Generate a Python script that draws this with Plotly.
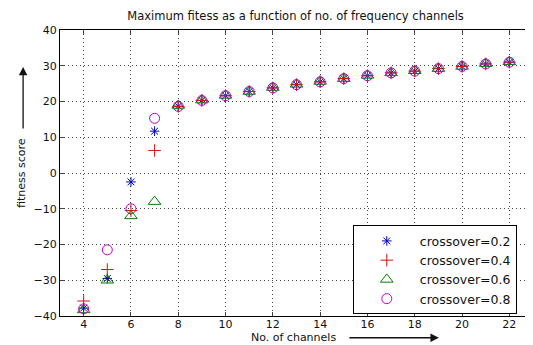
import plotly.graph_objects as go

channels = list(range(4, 23))
cross_02 = [-37.8, -29.5, -2.5, 11.7, 18.7, 20.3, 21.6, 22.8, 23.8, 24.7, 25.5, 26.4, 27.2, 28.0, 28.5, 29.2, 29.8, 30.5, 31.0]
cross_04 = [-35.8, -27.0, -10.5, 6.3, 18.6, 20.3, 21.6, 22.8, 23.8, 24.7, 25.5, 26.4, 27.2, 28.0, 28.5, 29.2, 29.8, 30.5, 31.0]
cross_06 = [-38.3, -30.0, -12.0, -8.0, 18.9, 20.4, 21.7, 22.8, 23.9, 24.8, 25.6, 26.4, 27.3, 28.0, 28.6, 29.2, 29.8, 30.6, 31.1]
cross_08 = [-38.0, -21.5, -10.0, 15.3, 18.6, 20.3, 21.6, 22.8, 23.8, 24.7, 25.5, 26.4, 27.2, 28.0, 28.5, 29.2, 29.8, 30.5, 31.0]
labels = ["crossover=0.2", "crossover=0.4", "crossover=0.6", "crossover=0.8"]
x_ticks = list(range(4, 23, 2))
y_ticks = list(range(-40, 41, 10))

series = [
    (cross_02, "asterisk-open", "#0000c8", 8),
    (cross_04, "cross-thin-open", "#e01010", 9),
    (cross_06, "triangle-up-open", "#008000", 11),
    (cross_08, "circle-open", "#c000c0", 10),
]

fig = go.Figure()
for (vals, sym, col, sz), name in zip(series, labels):
    fig.add_trace(go.Scatter(
        x=channels, y=vals, mode="markers", name=name,
        marker=dict(symbol=sym, size=sz, color=col, line=dict(color=col, width=1)),
    ))

FAM = "DejaVu Sans, Verdana, sans-serif"
font_main = dict(family=FAM, size=11, color="#111")

# page body has an 8px margin, so the figure is 525x337 placed at (8, 8)
fig.update_layout(
    width=525, height=337,
    margin=dict(l=52, r=0, t=22, b=29, autoexpand=False),
    paper_bgcolor="white", plot_bgcolor="white",
    font=font_main,
    title=dict(text="Maximum fitess as a function of no. of frequency channels",
               x=0.498, xref="paper", xanchor="center", y=0.976, yanchor="middle",
               font=dict(family=FAM, size=11.5, color="#111")),
    showlegend=True,
    legend=dict(x=0.619, y=0.006, xanchor="left", yanchor="bottom",
                bgcolor="white", bordercolor="black", borderwidth=1,
                font=dict(family=FAM, size=12.5, color="#111"),
                itemwidth=56, tracegroupgap=0),
)
grid = dict(showgrid=True, gridcolor="#444", griddash="1px,3px", gridwidth=1)
fig.update_xaxes(range=[3, 23], tickvals=x_ticks, ticks="inside", ticklen=4,
                 showline=True, linecolor="black", linewidth=1, mirror="ticks",
                 zeroline=False, tickfont=font_main, ticklabelstandoff=-2, **grid)
fig.update_yaxes(range=[-40, 40], tickvals=y_ticks, ticks="inside", ticklen=4,
                 showline=True, linecolor="black", linewidth=1, mirror="ticks",
                 zeroline=False, tickfont=font_main, **grid)

# axis titles with arrows
fig.add_annotation(text="fitness score", xref="paper", yref="paper",
                   x=-0.0825, y=0.50, textangle=-90, showarrow=False,
                   xanchor="center", yanchor="middle", font=font_main)
fig.add_annotation(text="", xref="paper", yref="paper", x=-0.078, y=0.871,
                   ax=0, ay=63, showarrow=True, arrowhead=2, arrowsize=1.3,
                   arrowwidth=1.3, arrowcolor="#111")
fig.add_annotation(text="No. of channels", xref="paper", yref="paper",
                   x=0.494, y=-0.076, showarrow=False,
                   xanchor="center", yanchor="middle", font=font_main)
fig.add_annotation(text="", xref="paper", yref="paper", x=0.801, y=-0.076,
                   ax=-91, ay=0, showarrow=True, arrowhead=2, arrowsize=1.3,
                   arrowwidth=1.3, arrowcolor="#111")

fig.write_html("out.html")
